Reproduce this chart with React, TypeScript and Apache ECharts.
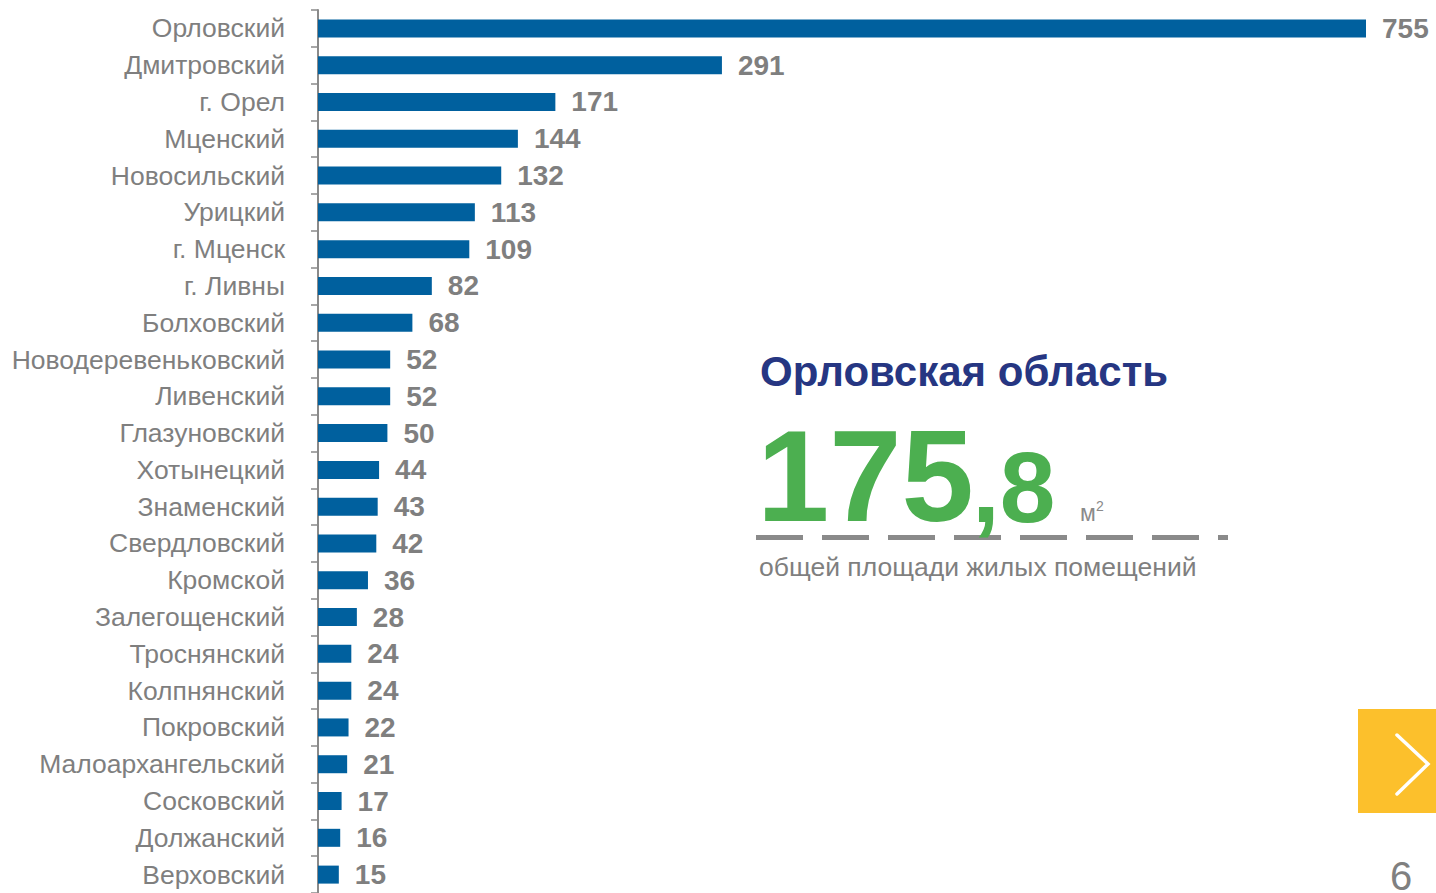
import React, { useEffect, useRef } from "react";
import * as echarts from "echarts";

const categories: string[] = [
  "Орловский",
  "Дмитровский",
  "г. Орел",
  "Мценский",
  "Новосильский",
  "Урицкий",
  "г. Мценск",
  "г. Ливны",
  "Болховский",
  "Новодеревеньковский",
  "Ливенский",
  "Глазуновский",
  "Хотынецкий",
  "Знаменский",
  "Свердловский",
  "Кромской",
  "Залегощенский",
  "Троснянский",
  "Колпнянский",
  "Покровский",
  "Малоархангельский",
  "Сосковский",
  "Должанский",
  "Верховский",
];

const values: number[] = [
  755, 291, 171, 144, 132, 113, 109, 82, 68, 52, 52, 50, 44, 43, 42, 36, 28, 24, 24, 22, 21, 17, 16, 15,
];

const regionTitle = "Орловская область";
const totalInteger = "175";
const totalFraction = ",8";
const unitText = "м";
const unitPower = "2";
const subtitle = "общей площади жилых помещений";
const pageNumber = "6";

const FONT = "Arial, Liberation Sans, sans-serif";

export default function App() {
  const ref = useRef<HTMLDivElement>(null);

  useEffect(() => {
    if (!ref.current) return;
    const chart = echarts.init(ref.current, undefined, { renderer: "svg" });
    chart.setOption({
      animation: false,
      backgroundColor: "#ffffff",
      grid: { left: 318, top: 10, width: 1048, height: 37 * categories.length, containLabel: false },
      xAxis: {
        type: "value",
        min: 0,
        max: 755,
        show: false,
      },
      yAxis: {
        type: "category",
        inverse: true,
        data: categories,
        axisLine: { show: true, lineStyle: { color: "#8a8a8a", width: 2 } },
        axisTick: { show: true, length: 7, lineStyle: { color: "#8a8a8a", width: 1.5 } },
        axisLabel: {
          margin: 33,
          color: "#7f7f7f",
          fontSize: 26.5,
          fontFamily: FONT,
        },
        splitLine: { show: false },
      },
      series: [
        {
          type: "bar",
          data: values,
          barWidth: 18,
          itemStyle: { color: "#00609e" },
          label: {
            show: true,
            position: "right",
            distance: 16,
            color: "#7f7f7f",
            fontSize: 28,
            fontWeight: "bold",
            fontFamily: FONT,
          },
        },
      ],
      graphic: [
        {
          type: "text",
          style: {
            x: 760,
            y: 371,
            text: regionTitle,
            fill: "#263682",
            font: `bold 42px ${FONT}`,
            verticalAlign: "middle",
          },
        },
        {
          type: "line",
          shape: { x1: 756, y1: 537.5, x2: 1228, y2: 537.5 },
          style: { stroke: "#8a8a8a", lineWidth: 5, lineDash: [47, 19] },
        },
        {
          type: "text",
          style: {
            x: 757,
            y: 476,
            text: totalInteger,
            fill: "#4caf50",
            font: `bold 130px ${FONT}`,
            verticalAlign: "middle",
          },
        },
        {
          type: "text",
          style: {
            x: 972,
            y: 487,
            text: totalFraction,
            fill: "#4caf50",
            font: `bold 100px ${FONT}`,
            verticalAlign: "middle",
          },
        },
        {
          type: "text",
          style: {
            x: 1080,
            y: 513,
            text: unitText,
            fill: "#8a8a8a",
            font: `23px ${FONT}`,
            verticalAlign: "middle",
          },
        },
        {
          type: "text",
          style: {
            x: 1096,
            y: 506,
            text: unitPower,
            fill: "#8a8a8a",
            font: `14px ${FONT}`,
            verticalAlign: "middle",
          },
        },
        {
          type: "text",
          style: {
            x: 759,
            y: 567,
            text: subtitle,
            fill: "#7f7f7f",
            font: `26.5px ${FONT}`,
            verticalAlign: "middle",
          },
        },
        {
          type: "rect",
          shape: { x: 1358, y: 709, width: 78, height: 104 },
          style: { fill: "#fcc02c" },
        },
        {
          type: "polyline",
          shape: { points: [[1397, 735], [1428, 764], [1397, 794]] },
          style: { stroke: "#ffffff", lineWidth: 3.5, fill: null, lineCap: "round" },
        },
        {
          type: "text",
          style: {
            x: 1390,
            y: 876,
            text: pageNumber,
            fill: "#808080",
            font: `40px ${FONT}`,
            verticalAlign: "middle",
          },
        },
      ],
    });
    return () => chart.dispose();
  }, []);

  return (
    <div
      ref={ref}
      style={{ position: "absolute", left: 0, top: 0, width: 1436, height: 893 }}
    />
  );
}
